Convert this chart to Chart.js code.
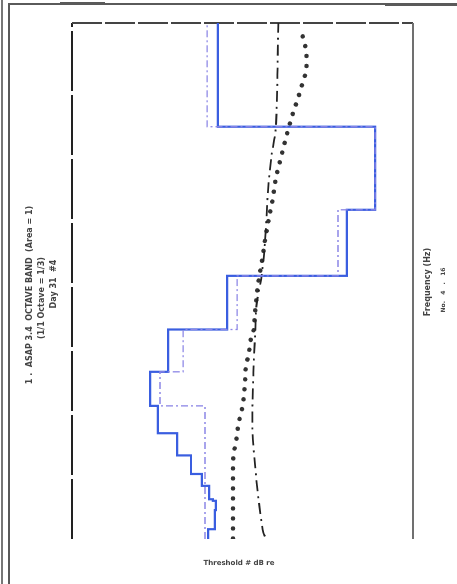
<!DOCTYPE html>
<html>
<head>
<meta charset="utf-8">
<script src="https://cdn.jsdelivr.net/npm/chart.js@4.4.1/dist/chart.umd.min.js"></script>
<style>
  html, body { margin: 0; padding: 0; background: #fff; overflow: hidden; }
  #page { position: relative; width: 457px; height: 584px; }
  /* the chart is drawn landscape, then turned a quarter to the left like the scan */
  #sheet { position: absolute; left: 0; top: 0; width: 584px; height: 457px;
           transform-origin: 0 0; transform: translate(0, 584px) rotate(-90deg); }
  .edge { position: absolute; background: #5a5a5a; }
</style>
</head>
<body>
<div id="page">
  <div class="edge" style="left:1px;top:0;width:2px;height:584px;background:#777"></div>
  <div class="edge" style="left:8px;top:4px;width:2px;height:580px"></div>
  <div class="edge" style="left:8px;top:3px;width:449px;height:2px"></div>
  <div class="edge" style="left:60px;top:2px;width:45px;height:3px"></div>
  <div class="edge" style="left:385px;top:3px;width:72px;height:3px"></div>
  <div id="sheet"><canvas id="chart" width="584" height="457"></canvas></div>
</div>
<script>
// frequency position (0-100 across the plot) and level (0-100 up the plot)
var blueFreq  = [0, 1.9, 5.6, 7.4, 7.7, 10.3, 12.6, 16.2, 20.5, 25.8, 32.4, 40.6, 51.0, 63.8, 79.9, 100];
var blueLevel = [60.1, 58.1, 57.8, 58.7, 59.8, 61.9, 65.1, 69.2, 74.8, 77.1, 71.8, 54.5, 19.4, 11.1, 57.2, 57.2];

var purpleFreq  = [0, 25.8, 32.4, 40.6, 51.0, 63.8, 79.9, 100];
var purpleLevel = [61.0, 74.2, 67.4, 51.6, 22.0, 11.1, 60.4, 60.4];

var dashFreq  = [0.5, 1.2, 7.7, 14.2, 21.4, 32.3, 39.5, 45.3, 51.0, 57.5, 67.7, 74.2, 79.9, 100];
var dashLevel = [43.4, 43.9, 45.3, 46.3, 47.1, 46.8, 46.3, 45.9, 44.4, 43.4, 42.5, 41.5, 40.2, 39.5];

var dotFreq  = [0.1, 7.7, 14.2, 18.0, 20.0, 21.9, 24.0, 26.0, 30.1, 33.9, 35.9, 38.1, 39.9, 43.8, 48.2,
                53.9, 57.9, 62.0, 66.0, 70.0, 74.0, 77.9, 81.9, 85.9, 87.9, 89.8, 91.8, 93.9, 95.8, 98.0];
var dotLevel = [52.8, 52.8, 52.8, 52.2, 51.6, 51.3, 50.6, 49.9, 49.3, 48.9, 48.1, 47.8, 46.9, 46.3, 45.7,
                44.3, 43.4, 42.3, 41.1, 40.2, 38.7, 37.2, 35.5, 33.5, 32.6, 31.7, 31.2, 31.2, 31.7, 32.6];

var titleLines = ["1 .  ASAP 3.4  OCTAVE BAND  (Area = 1)", "(1/1 Octave = 1/3)", "Day 31  #4"];
var xLabel = "Frequency (Hz)";
var xNote = "No.   4   .   16";
var yLabel = "Threshold # dB re";

function pts(xs, ys) {
  return xs.map(function (x, i) { return { x: x, y: ys[i] }; });
}

// frame and labels, in the landscape coordinates of the canvas
const framePlugin = {
  id: 'frame',
  beforeDatasetsDraw(chart) {
    const a = chart.chartArea;
    const ctx = chart.ctx;
    ctx.save();
    ctx.lineCap = 'butt';
    ctx.strokeStyle = '#222';
    ctx.lineWidth = 2;
    ctx.setLineDash([60, 4]);
    ctx.beginPath(); ctx.moveTo(a.left, a.top); ctx.lineTo(a.right, a.top); ctx.stroke();
    ctx.strokeStyle = '#444';
    ctx.setLineDash([30, 3]);
    ctx.beginPath(); ctx.moveTo(a.right, a.top); ctx.lineTo(a.right, a.bottom); ctx.stroke();
    ctx.strokeStyle = '#707070';
    ctx.setLineDash([]);
    ctx.beginPath(); ctx.moveTo(a.left, a.bottom); ctx.lineTo(a.right, a.bottom); ctx.stroke();
    ctx.restore();
  },
  afterDraw(chart) {
    const ctx = chart.ctx;
    ctx.save();
    ctx.fillStyle = '#444';
    ctx.textAlign = 'center';
    ctx.textBaseline = 'middle';
    ctx.font = 'bold 8px "DejaVu Sans"';
    ctx.fillText(titleLines[0], 289, 30);
    ctx.fillText(titleLines[1], 286, 42);
    ctx.fillText(titleLines[2], 300, 54);
    ctx.fillText(xLabel, 302, 428);
    ctx.font = 'bold 6px "DejaVu Sans"';
    ctx.fillText(xNote, 294, 443);
    ctx.translate(21, 239);
    ctx.rotate(Math.PI / 2);
    ctx.font = 'bold 7px "DejaVu Sans"';
    ctx.fillText(yLabel, 0, 0);
    ctx.restore();
  }
};

const config = {
  type: 'line',
  data: {
    datasets: [
      {
        label: 'reference',
        data: pts(purpleFreq, purpleLevel),
        stepped: 'before',
        borderColor: '#8c86e6',
        borderWidth: 1.3,
        borderDash: [7, 3, 2, 3],
        pointRadius: 0
      },
      {
        label: 'measured',
        data: pts(blueFreq, blueLevel),
        stepped: 'before',
        borderColor: '#3a5ee0',
        borderWidth: 2.2,
        pointRadius: 0
      },
      {
        label: 'mean',
        data: pts(dashFreq, dashLevel),
        borderColor: '#222',
        borderWidth: 1.8,
        borderDash: [11, 5, 2, 5],
        tension: 0.3,
        pointRadius: 0
      },
      {
        label: 'fit',
        data: pts(dotFreq, dotLevel),
        borderColor: '#333',
        borderWidth: 4.5,
        borderCapStyle: 'round',
        borderDash: [0.01, 10],
        cubicInterpolationMode: 'monotone',
        pointRadius: 0
      }
    ]
  },
  options: {
    responsive: false,
    animation: false,
    devicePixelRatio: 1,
    layout: { padding: { left: 45, right: 23, top: 72, bottom: 44 } },
    scales: {
      x: { type: 'linear', min: 0, max: 100, display: false },
      y: { type: 'linear', min: 0, max: 100, display: false }
    },
    plugins: {
      legend: { display: false },
      tooltip: { enabled: false }
    }
  },
  plugins: [framePlugin]
};

new Chart(document.getElementById('chart'), config);
</script>
</body>
</html>
